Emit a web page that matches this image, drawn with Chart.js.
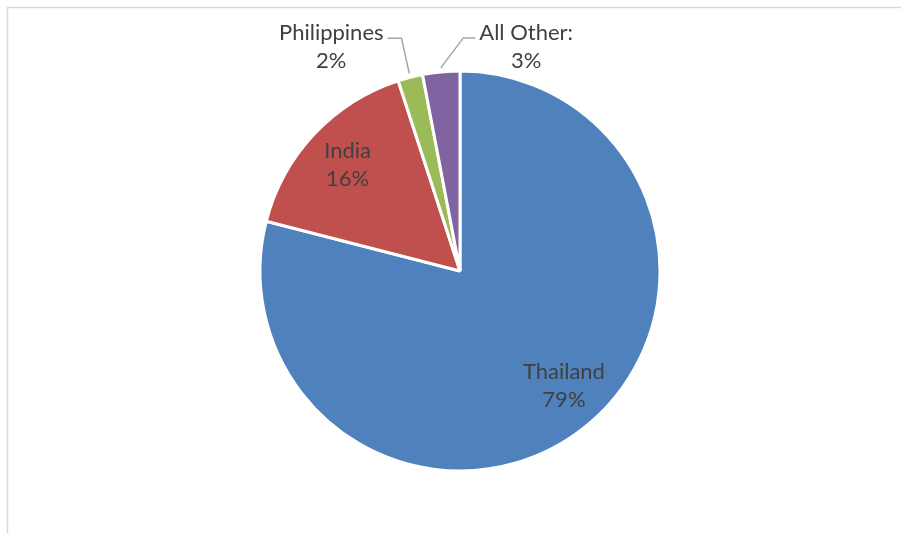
<!DOCTYPE html>
<html>
<head>
<meta charset="utf-8">
<script src="https://cdn.jsdelivr.net/npm/chart.js@4"></script>
<style>
  html, body { margin: 0; padding: 0; background: #ffffff; }
  #wrap { width: 901px; height: 533px; position: relative; }
</style>
</head>
<body>
<div id="wrap"><canvas id="chart" width="901" height="533"></canvas></div>
<script>
/* datos del grafico */
const paises = ['Thailand', 'India', 'Philippines', 'All Other:'];
const porcentajes = [79, 16, 2, 3];
const colores = ['#4F81BD', '#C0504D', '#9BBB59', '#8064A2'];

/* donde va cada etiqueta: dentro del trozo o afuera con linea guia */
const etiquetas = [
    { tipo: 'dentro', f: 0.75, dx: 12, dy: -4 },
    { tipo: 'dentro', f: 0.75, dx: -3, dy: -3 },
    { tipo: 'afuera', dx: -79, dy: -30, lado: 'derecha' },
    { tipo: 'afuera', dx: 85, dy: -25, lado: 'izquierda' }
];

const fuente = '22px Lato, "Open Sans", sans-serif';
const colorTexto = '#404040';
const altoLinea = 28;

/* marco gris arriba y a la izquierda */
const marco = {
    id: 'marco',
    beforeDraw(chart) {
        const c = chart.ctx;
        c.save();
        c.fillStyle = '#ffffff';
        c.fillRect(0, 0, chart.width, chart.height);
        c.strokeStyle = '#d9d9d9';
        c.lineWidth = 1.5;
        c.beginPath();
        c.moveTo(chart.width, 7.5);
        c.lineTo(7.5, 7.5);
        c.lineTo(7.5, chart.height);
        c.stroke();
        c.restore();
    }
};

/* etiquetas con nombre y porcentaje */
const rotulos = {
    id: 'rotulos',
    afterDatasetsDraw(chart) {
        const c = chart.ctx;
        const meta = chart.getDatasetMeta(0);
        c.save();
        c.font = fuente;
        c.fillStyle = colorTexto;
        c.textAlign = 'center';
        c.textBaseline = 'middle';
        meta.data.forEach((arc, i) => {
            const p = arc.getProps(['x', 'y', 'startAngle', 'endAngle', 'outerRadius'], true);
            const mid = (p.startAngle + p.endAngle) / 2;
            const cfg = etiquetas[i];
            const linea1 = paises[i];
            const linea2 = porcentajes[i] + '%';
            let cx, cy;
            if (cfg.tipo === 'dentro') {
                cx = p.x + Math.cos(mid) * p.outerRadius * cfg.f + cfg.dx;
                cy = p.y + Math.sin(mid) * p.outerRadius * cfg.f + cfg.dy;
            } else {
                const bx = p.x + Math.cos(mid) * p.outerRadius;
                const by = p.y + Math.sin(mid) * p.outerRadius;
                cx = bx + cfg.dx;
                cy = by + cfg.dy;
                /* linea guia */
                const ancho = c.measureText(linea1).width;
                const yl = cy - altoLinea / 2 + 5;
                const ex = bx + Math.cos(mid) * 4;
                const ey = by + Math.sin(mid) * 4;
                c.strokeStyle = '#a6a6a6';
                c.lineWidth = 1.5;
                c.beginPath();
                if (cfg.lado === 'derecha') {
                    const x0 = cx + ancho / 2 + 4;
                    c.moveTo(x0, yl);
                    c.lineTo(x0 + 14, yl);
                } else {
                    const x0 = cx - ancho / 2 - 4;
                    c.moveTo(x0, yl);
                    c.lineTo(x0 - 12, yl);
                }
                c.lineTo(ex, ey);
                c.stroke();
            }
            c.fillText(linea1, cx, cy - altoLinea / 2);
            c.fillText(linea2, cx, cy + altoLinea / 2);
        });
        c.restore();
    }
};

const ctx = document.getElementById('chart').getContext('2d');
new Chart(ctx, {
    type: 'pie',
    data: {
        labels: paises,
        datasets: [{
            data: porcentajes,
            backgroundColor: colores,
            borderColor: '#ffffff',
            borderWidth: 3,
            hoverOffset: 0
        }]
    },
    options: {
        responsive: false,
        animation: false,
        radius: 200,
        layout: { padding: { left: 20, right: 1, top: 10, bottom: 1 } },
        plugins: {
            legend: { display: false },
            tooltip: { enabled: false }
        }
    },
    plugins: [marco, rotulos]
});
</script>
</body>
</html>
